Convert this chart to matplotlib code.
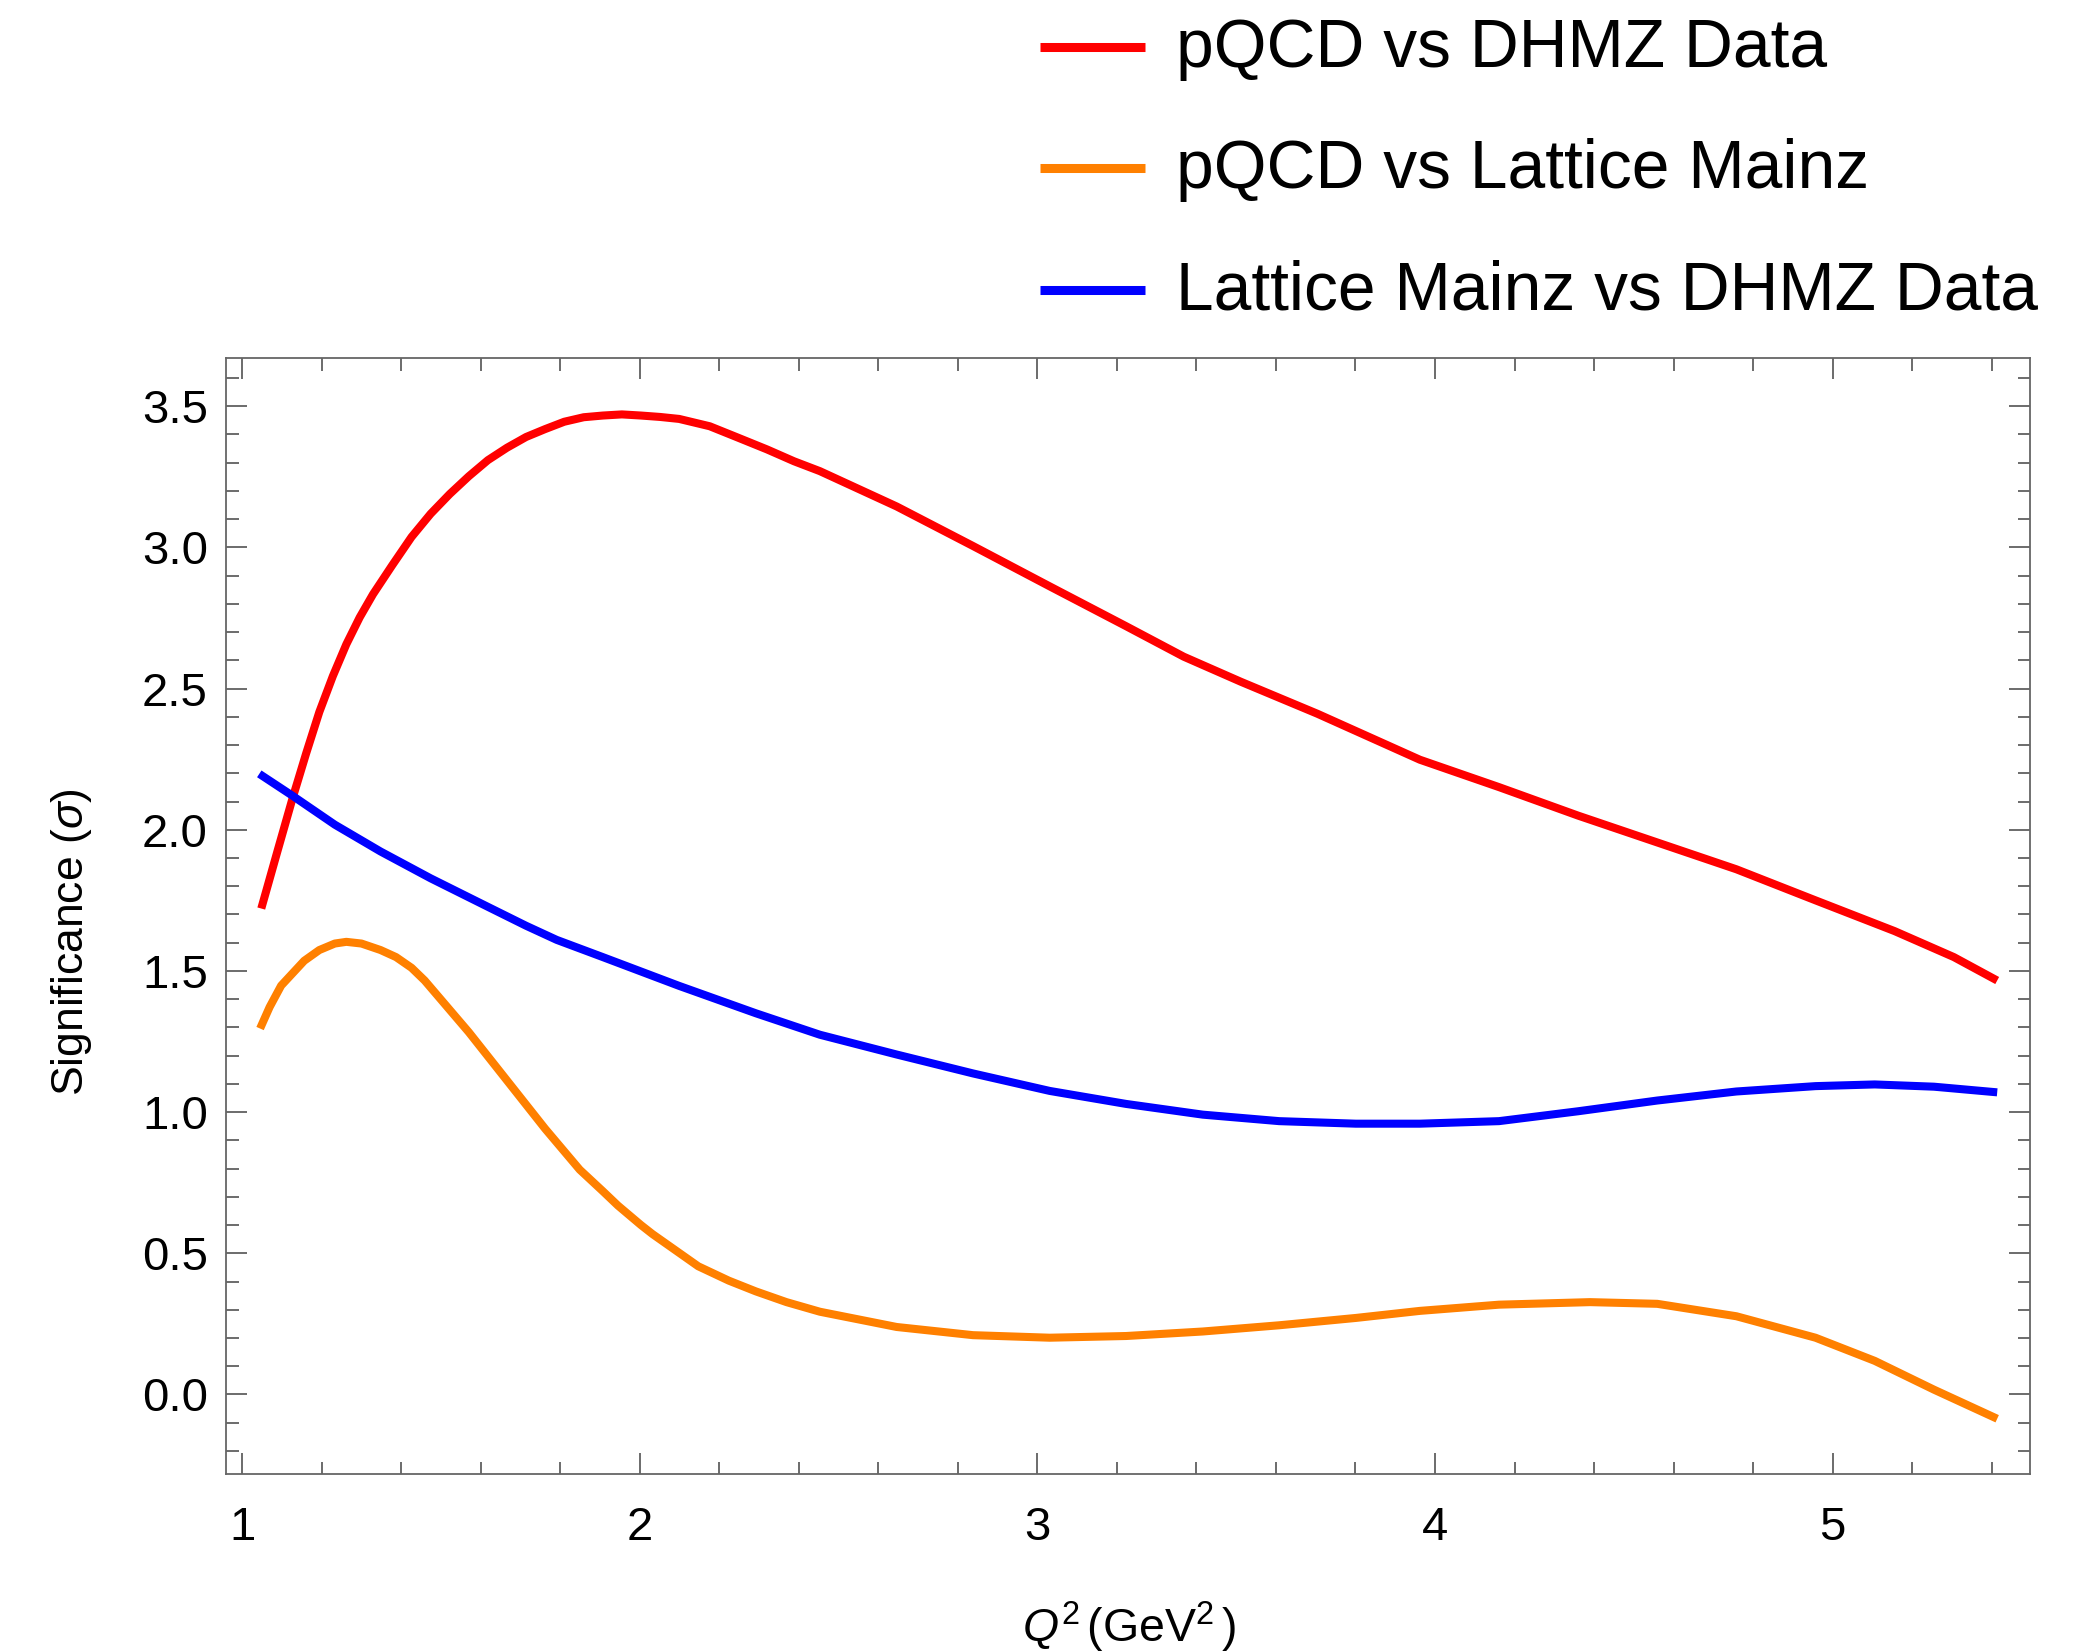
import matplotlib
matplotlib.use("Agg")
import matplotlib.pyplot as plt
from matplotlib.lines import Line2D
from matplotlib.ticker import MultipleLocator

plt.rcParams['font.family'] = ['Liberation Sans', 'DejaVu Sans']
plt.rcParams['mathtext.fontset'] = 'custom'
plt.rcParams['mathtext.rm'] = 'Liberation Sans'
plt.rcParams['mathtext.it'] = 'Liberation Sans:italic'

# ---- data ----
red_x = [1.048, 1.0885, 1.127, 1.161, 1.194, 1.228, 1.262, 1.2955, 1.329, 1.377, 1.426,
         1.474, 1.522, 1.570, 1.618, 1.666, 1.714, 1.762, 1.810, 1.859, 1.907, 1.955,
         2.003, 2.051, 2.099, 2.176, 2.243, 2.320, 2.388, 2.453, 2.646, 2.838, 3.031,
         3.223, 3.368, 3.512, 3.704, 3.962, 4.161, 4.360, 4.559, 4.758, 4.957, 5.156,
         5.305, 5.414]
red_y = [1.721, 1.923, 2.113, 2.271, 2.417, 2.544, 2.657, 2.752, 2.834, 2.936, 3.037,
         3.119, 3.189, 3.252, 3.309, 3.353, 3.391, 3.419, 3.445, 3.461, 3.467, 3.471,
         3.467, 3.462, 3.455, 3.429, 3.391, 3.347, 3.305, 3.270, 3.145, 3.005, 2.862,
         2.721, 2.613, 2.524, 2.411, 2.248, 2.151, 2.050, 1.955, 1.860, 1.750, 1.641,
         1.549, 1.466]

orange_x = [1.045, 1.069, 1.098, 1.127, 1.156, 1.194, 1.233, 1.262, 1.300, 1.348, 1.387,
            1.426, 1.459, 1.493, 1.570, 1.666, 1.762, 1.849, 1.907, 1.945, 2.003, 2.032,
            2.147, 2.224, 2.292, 2.369, 2.453, 2.646, 2.838, 3.031, 3.223, 3.416, 3.608,
            3.801, 3.962, 4.161, 4.390, 4.559, 4.758, 4.957, 5.106, 5.255, 5.414]
orange_y = [1.296, 1.372, 1.448, 1.492, 1.536, 1.574, 1.597, 1.603, 1.597, 1.574, 1.549,
            1.511, 1.466, 1.410, 1.283, 1.112, 0.941, 0.796, 0.720, 0.669, 0.600, 0.568,
            0.454, 0.403, 0.365, 0.327, 0.293, 0.239, 0.210, 0.201, 0.207, 0.223, 0.245,
            0.271, 0.296, 0.318, 0.327, 0.321, 0.277, 0.201, 0.119, 0.017, -0.086]

blue_x = [1.043, 1.127, 1.233, 1.348, 1.474, 1.618, 1.714, 1.791, 1.907, 2.099, 2.292,
          2.453, 2.646, 2.838, 3.031, 3.223, 3.416, 3.608, 3.801, 3.962, 4.161, 4.360,
          4.559, 4.758, 4.957, 5.106, 5.255, 5.414]
blue_y = [2.198, 2.120, 2.018, 1.923, 1.828, 1.727, 1.660, 1.610, 1.549, 1.447, 1.350,
          1.274, 1.204, 1.137, 1.075, 1.029, 0.991, 0.968, 0.959, 0.959, 0.968, 1.003,
          1.041, 1.073, 1.092, 1.098, 1.090, 1.070]

labels = ["pQCD vs DHMZ Data", "pQCD vs Lattice Mainz", "Lattice Mainz vs DHMZ Data"]
colors = ["#FF0000", "#FF8000", "#0000FF"]

x_ticks = [1, 2, 3, 4, 5]
y_ticks = [0.0, 0.5, 1.0, 1.5, 2.0, 2.5, 3.0, 3.5]

# ---- figure ----
W, H = 2095, 1651
fig = plt.figure(figsize=(W / 100, H / 100), dpi=100)
ax = fig.add_axes([226 / W, 1 - 1474 / H, (2030 - 226) / W, (1474 - 358.5) / H])

lw = 5.8
for xs, ys, c in [(red_x, red_y, colors[0]), (orange_x, orange_y, colors[1]), (blue_x, blue_y, colors[2])]:
    ax.plot(xs, ys, color=c, lw=lw, solid_capstyle='butt', solid_joinstyle='round')

ax.set_xlim(0.9593, 5.4965)
ax.set_ylim(-0.2817, 3.669)
ax.set_xticks(x_ticks)
ax.set_xticklabels([str(t) for t in x_ticks])
ax.set_yticks(y_ticks)
ax.set_yticklabels([f"{t:.1f}" for t in y_ticks])
ax.xaxis.set_minor_locator(MultipleLocator(0.2))
ax.yaxis.set_minor_locator(MultipleLocator(0.1))

spine_c = '#666666'
for s in ax.spines.values():
    s.set_color(spine_c)
    s.set_linewidth(1.3)
ax.tick_params(which='both', direction='in', top=True, right=True, color='#444444', width=1.1)
ax.tick_params(which='major', length=15, labelsize=34)
ax.tick_params(which='minor', length=9)
ax.tick_params(axis='x', which='major', pad=23)
ax.tick_params(axis='y', which='major', pad=13)

# axis labels
fig.text(72 / W, 1 - 942 / H, r"Significance ($\sigma$)", rotation=90,
         ha='center', va='center', fontsize=32)
fig.text(1129 / W, 1 - 1642 / H, r"$Q^2\,$(GeV$^2\,$)", ha='center', va='baseline', fontsize=33.5)

# legend (drawn at top right, outside the axes)
line_ys = [47, 168, 290]
base_ys = [67, 188, 310]
for lab, c, ly, by in zip(labels, colors, line_ys, base_ys):
    fig.add_artist(Line2D([1040 / W, 1145 / W], [1 - ly / H, 1 - ly / H],
                          transform=fig.transFigure, color=c, lw=6.5, solid_capstyle='butt'))
    fig.text(1176 / W, 1 - by / H, lab, ha='left', va='baseline', fontsize=48.8)

fig.savefig("out.png", dpi=100)
